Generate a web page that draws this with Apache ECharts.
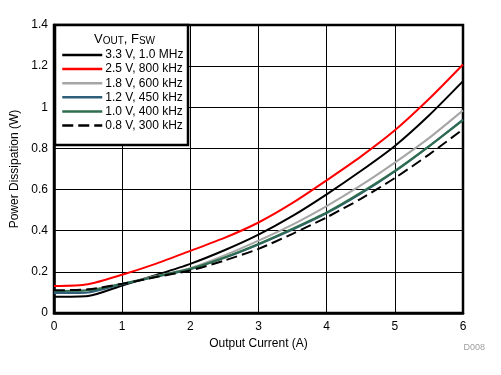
<!DOCTYPE html>
<html>
<head>
<meta charset="utf-8">
<script src="https://cdn.jsdelivr.net/npm/echarts@6/dist/echarts.min.js"></script>
<style>html,body{margin:0;padding:0;background:#fff}#c{width:501px;height:375px}</style>
</head>
<body>
<div id="c"></div>
<script>
var xValues = [0, 0.5, 1, 1.5, 2, 2.5, 3, 3.5, 4, 4.5, 5, 5.5, 6];
var s33 = [0.079, 0.083, 0.134, 0.185, 0.239, 0.305, 0.381, 0.472, 0.577, 0.69, 0.812, 0.96, 1.127];
var s25 = [0.131, 0.140, 0.186, 0.240, 0.302, 0.365, 0.440, 0.535, 0.645, 0.760, 0.888, 1.040, 1.208];
var s18 = [0.107, 0.112, 0.142, 0.180, 0.218, 0.280, 0.352, 0.430, 0.520, 0.620, 0.731, 0.850, 0.985];
var s12 = [0.097, 0.100, 0.140, 0.176, 0.213, 0.268, 0.333, 0.405, 0.485, 0.580, 0.688, 0.810, 0.940];
var s10 = [0.107, 0.110, 0.142, 0.178, 0.215, 0.270, 0.336, 0.410, 0.489, 0.585, 0.691, 0.810, 0.937];
var s08 = [0.110, 0.115, 0.142, 0.175, 0.207, 0.255, 0.312, 0.385, 0.465, 0.555, 0.656, 0.770, 0.893];
var seriesNames = ['3.3 V, 1.0 MHz', '2.5 V, 800 kHz', '1.8 V, 600 kHz', '1.2 V, 450 kHz', '1.0 V, 400 kHz', '0.8 V, 300 kHz'];
var seriesData = [s33, s25, s18, s12, s10, s08];
var colors = ['#000000', '#ff0000', '#a6a6a6', '#2f5f78', '#2e6e4e', '#000000'];
var dashes = ['solid', 'solid', 'solid', 'solid', 'solid', [11, 5]];

function pairs(ys) { return xValues.map(function (x, i) { return [x, ys[i]]; }); }

var font = 'Liberation Sans, Arial, sans-serif';
var chart = echarts.init(document.getElementById('c'), null, { renderer: 'canvas' });
var series = seriesNames.map(function (n, i) {
  return {
    name: n, type: 'line', data: pairs(seriesData[i]), showSymbol: false, symbol: 'none',
    smooth: 0.25, z: 2,
    lineStyle: { color: colors[i], width: 2, type: dashes[i] },
    itemStyle: { color: colors[i] }
  };
});
chart.setOption({
  animation: false,
  backgroundColor: '#fff',
  textStyle: { fontFamily: font },
  grid: { left: 54, right: 38, top: 25, bottom: 62, show: true, borderColor: '#000', borderWidth: 2.5, backgroundColor: 'transparent' },
  xAxis: {
    type: 'value', min: 0, max: 6, interval: 1,
    name: 'Output Current (A)', nameLocation: 'middle', nameGap: 23,
    nameTextStyle: { fontSize: 12, color: '#000', fontFamily: font },
    axisLine: { show: true, lineStyle: { color: '#000', width: 2.5 } },
    axisTick: { show: false },
    axisLabel: { fontSize: 12, color: '#000', margin: 8, fontFamily: font },
    splitLine: { show: true, lineStyle: { color: '#000', width: 1 } }
  },
  yAxis: {
    type: 'value', min: 0, max: 1.4, interval: 0.2,
    name: 'Power Dissipation (W)', nameLocation: 'middle', nameGap: 30,
    nameTextStyle: { fontSize: 12, color: '#000', fontFamily: font },
    axisLine: { show: true, lineStyle: { color: '#000', width: 2.5 } },
    axisTick: { show: false },
    axisLabel: { fontSize: 12, color: '#000', margin: 6, fontFamily: font,
      formatter: function (v) { return String(+v.toFixed(1)); } },
    splitLine: { show: true, lineStyle: { color: '#000', width: 1 } }
  },
  legend: {
    orient: 'vertical', left: 61, top: 49, padding: 0, z: 6,
    itemWidth: 40, itemHeight: 12, itemGap: 2.1,
    data: seriesNames,
    itemStyle: { opacity: 0, borderWidth: 0 },
    lineStyle: { width: 2.5 },
    textStyle: { fontSize: 12, color: '#000', fontFamily: font, padding: [0, 0, 0, -2] }
  },
  graphic: [
    { type: 'rect', z: 5, shape: { x: 55, y: 25, width: 133, height: 120 },
      style: { fill: '#fff', stroke: '#000', lineWidth: 2.5 } },
    { type: 'text', z: 6, left: 94, top: 33,
      style: { text: '{a|V}{b|OUT}{a|, F}{b|SW}', fill: '#000',
        rich: { a: { fontSize: 13, fontFamily: font, fill: '#000', verticalAlign: 'bottom' },
                b: { fontSize: 10, fontFamily: font, fill: '#000', verticalAlign: 'bottom' } } } },
    { type: 'text', z: 6, right: 16, top: 343,
      style: { text: 'D008', fill: '#a0a0a0', fontSize: 9, fontFamily: font } }
  ],
  series: series
});
</script>
</body>
</html>
